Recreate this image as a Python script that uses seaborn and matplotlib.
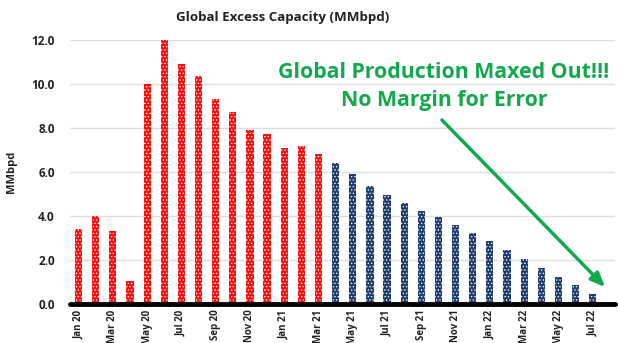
import numpy as np
import pandas as pd
import matplotlib
matplotlib.use("Agg")
import matplotlib.pyplot as plt
import seaborn as sns

# Monthly global spare production capacity, million barrels per day
months = ["Jan 20", "Feb 20", "Mar 20", "Apr 20", "May 20", "Jun 20", "Jul 20", "Aug 20",
          "Sep 20", "Oct 20", "Nov 20", "Dec 20", "Jan 21", "Feb 21", "Mar 21",
          "Apr 21", "May 21", "Jun 21", "Jul 21", "Aug 21", "Sep 21", "Oct 21", "Nov 21",
          "Dec 21", "Jan 22", "Feb 22", "Mar 22", "Apr 22", "May 22", "Jun 22", "Jul 22"]
capacity = [3.4, 4.0, 3.3, 1.05, 10.0, 12.0, 10.9, 10.35,
            9.3, 8.75, 7.9, 7.75, 7.1, 7.2, 6.8,
            6.4, 5.9, 5.35, 4.95, 4.6, 4.25, 3.95, 3.6,
            3.25, 2.85, 2.45, 2.05, 1.65, 1.25, 0.85, 0.45]
phase = ["actual"] * 15 + ["projected"] * 16
phase_colors = {"actual": "#ff0a0a", "projected": "#1f3b70"}
yticks = [0.0, 2.0, 4.0, 6.0, 8.0, 10.0, 12.0]

df = pd.DataFrame({"month": months, "capacity": capacity, "phase": phase})

sns.set_theme(style="white")
plt.rcParams["font.family"] = ["Open Sans", "DejaVu Sans"]
plt.rcParams["hatch.linewidth"] = 0.6

fig = plt.figure(figsize=(6.18, 3.43), dpi=100)
ax = fig.add_axes([70 / 618, 39 / 343, 545 / 618, 264 / 343])

sns.barplot(data=df, x="month", y="capacity", hue="phase", palette=phase_colors,
            dodge=False, width=0.42, legend=False, ax=ax, saturation=1)

for p in ax.patches:
    p.set_hatch(".....")
    p.set_edgecolor("#f4f4f4")
    p.set_linewidth(0)

ax.set_ylim(0, 12)
ax.set_xlim(-0.5, 31.3)
ax.set_yticks(yticks)
ax.set_yticklabels([f"{v:.1f}" for v in yticks], fontsize=8.5, fontweight="bold", color="#222222")
ax.yaxis.grid(True, color="#dddddd", linewidth=1)
ax.set_axisbelow(True)
for s in ax.spines.values():
    s.set_visible(False)
ax.axhline(0, color="black", linewidth=3.5, zorder=5, clip_on=False)

ax.set_xticks(range(0, len(months), 2))
ax.set_xticklabels(months[::2], rotation=90, fontsize=7, fontweight="bold",
                   color="#222222", va="top")
ax.tick_params(axis="x", length=0, pad=4)
ax.tick_params(axis="y", length=0, pad=11)
ax.set_xlabel("")
ax.set_ylabel("MMbpd", fontsize=8, fontweight="bold", color="#222222", labelpad=10)

fig.text(283 / 618, 1 - 17 / 343, "Global Excess Capacity (MMbpd)", ha="center",
         va="center", fontsize=9.6, fontweight="bold", color="#222222")

green = "#12a94c"
fig.text(444 / 618, 1 - 72 / 343, "Global Production Maxed Out!!!", ha="center",
         va="center", fontsize=15.3, fontweight="bold", color=green)
fig.text(444 / 618, 1 - 101 / 343, "No Margin for Error", ha="center",
         va="center", fontsize=15.3, fontweight="bold", color=green)

ax.annotate("", xy=(607 / 618, 1 - 289 / 343), xytext=(440 / 618, 1 - 118 / 343),
            xycoords="figure fraction", textcoords="figure fraction",
            arrowprops=dict(arrowstyle="-|>,head_length=0.7,head_width=0.3",
                            color=green, lw=2.5))

fig.savefig("out.png", dpi=100)
